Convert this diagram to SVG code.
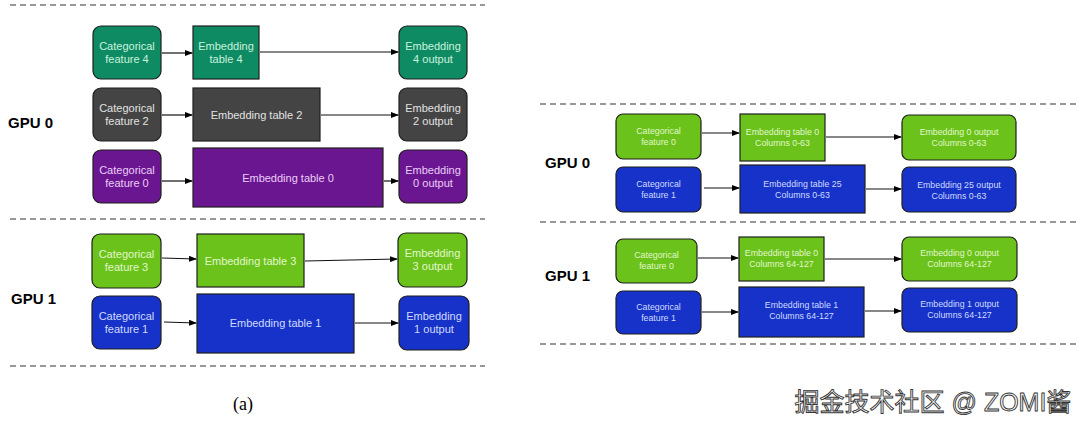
<svg xmlns="http://www.w3.org/2000/svg" width="1080" height="429" viewBox="0 0 1080 429">
<defs>
<marker id="ah" markerWidth="8" markerHeight="6" refX="7" refY="3" orient="auto" markerUnits="userSpaceOnUse">
<path d="M0,0 L8,3 L0,6 Z" fill="#000"/>
</marker>
<style>
.dash{stroke:#333;stroke-width:1.2;stroke-dasharray:6,4;fill:none}
.edge{stroke:#111;stroke-width:1.2;fill:none;marker-end:url(#ah)}
.box{stroke:#1e1e1e;stroke-width:1.2}
.t{font-family:"Liberation Sans",Arial,sans-serif;font-size:11px;text-anchor:middle}
.s{font-family:"Liberation Sans",Arial,sans-serif;font-size:8.8px;text-anchor:middle}
.gpu{font-family:"Liberation Sans",Arial,sans-serif;font-size:15px;font-weight:bold;fill:#000}
.teal{fill:#0f8b63}.tealt{fill:#c9f2de}
.gray{fill:#444444}.grayt{fill:#e2e2e2}
.pur{fill:#6a1691}.purt{fill:#eccdf7}
.grn{fill:#6ac21a}.grnt{fill:#e2f7cc}
.blu{fill:#1632c8}.blut{fill:#d0dbff}
</style>
</defs>
<rect width="1080" height="429" fill="#fff"/>

<g id="separators">
<line class="dash" x1="10" y1="5" x2="485" y2="5"/>
<line class="dash" x1="10" y1="219" x2="485" y2="219"/>
<line class="dash" x1="10" y1="366" x2="485" y2="366"/>
<line class="dash" x1="540" y1="104" x2="1080" y2="104"/>
<line class="dash" x1="540" y1="222" x2="1080" y2="222"/>
<line class="dash" x1="540" y1="344" x2="1080" y2="344"/>
</g>

<g id="labels">
<text class="gpu" x="8" y="128">GPU 0</text>
<text class="gpu" x="11" y="304">GPU 1</text>
<text class="gpu" x="545" y="168">GPU 0</text>
<text class="gpu" x="545" y="281">GPU 1</text>
<text x="243" y="410" font-family="Liberation Serif,'Times New Roman',serif" font-size="18" text-anchor="middle" fill="#000">(a)</text>
</g>

<!-- Left panel, GPU 0 -->
<g id="l-cat4"><rect class="box teal" x="93" y="26" width="68" height="53" rx="8"/><text class="t tealt" x="127" y="50">Categorical</text><text class="t tealt" x="127" y="63">feature 4</text></g>
<g id="l-emb4"><rect class="box teal" x="193" y="26" width="66" height="53"/><text class="t tealt" x="226" y="50">Embedding</text><text class="t tealt" x="226" y="63">table 4</text></g>
<g id="l-out4"><rect class="box teal" x="399" y="26" width="68" height="53" rx="8"/><text class="t tealt" x="433" y="50">Embedding</text><text class="t tealt" x="433" y="63">4 output</text></g>

<g id="l-cat2"><rect class="box gray" x="93" y="88" width="68" height="53" rx="8"/><text class="t grayt" x="127" y="112">Categorical</text><text class="t grayt" x="127" y="125">feature 2</text></g>
<g id="l-emb2"><rect class="box gray" x="193" y="88" width="127" height="53"/><text class="t grayt" x="256.5" y="119">Embedding table 2</text></g>
<g id="l-out2"><rect class="box gray" x="399" y="88" width="68" height="53" rx="8"/><text class="t grayt" x="433" y="112">Embedding</text><text class="t grayt" x="433" y="125">2 output</text></g>

<g id="l-cat0"><rect class="box pur" x="93" y="150" width="68" height="53" rx="8"/><text class="t purt" x="127" y="174">Categorical</text><text class="t purt" x="127" y="187">feature 0</text></g>
<g id="l-emb0"><rect class="box pur" x="193" y="148" width="190" height="59"/><text class="t purt" x="288" y="182">Embedding table 0</text></g>
<g id="l-out0"><rect class="box pur" x="399" y="150" width="68" height="53" rx="8"/><text class="t purt" x="433" y="174">Embedding</text><text class="t purt" x="433" y="187">0 output</text></g>

<!-- Left panel, GPU 1 -->
<g id="l-cat3"><rect class="box grn" x="92" y="234" width="69" height="54" rx="8"/><text class="t grnt" x="126.5" y="258">Categorical</text><text class="t grnt" x="126.5" y="271">feature 3</text></g>
<g id="l-emb3"><rect class="box grn" x="197" y="234" width="107" height="53"/><text class="t grnt" x="250.5" y="265">Embedding table 3</text></g>
<g id="l-out3"><rect class="box grn" x="398" y="233" width="69" height="54" rx="8"/><text class="t grnt" x="432.5" y="257">Embedding</text><text class="t grnt" x="432.5" y="270">3 output</text></g>

<g id="l-cat1"><rect class="box blu" x="92" y="296" width="69" height="53" rx="8"/><text class="t blut" x="126.5" y="320">Categorical</text><text class="t blut" x="126.5" y="333">feature 1</text></g>
<g id="l-emb1"><rect class="box blu" x="197" y="294" width="157" height="59"/><text class="t blut" x="275.5" y="327">Embedding table 1</text></g>
<g id="l-out1"><rect class="box blu" x="399" y="296" width="70" height="54" rx="8"/><text class="t blut" x="434" y="320">Embedding</text><text class="t blut" x="434" y="333">1 output</text></g>

<!-- Right panel, GPU 0 -->
<g id="r0-cat0"><rect class="box grn" x="616" y="114" width="85" height="45" rx="7"/><text class="s grnt" x="658.5" y="134">Categorical</text><text class="s grnt" x="658.5" y="145">feature 0</text></g>
<g id="r0-emb0"><rect class="box grn" x="740" y="114" width="85" height="47"/><text class="s grnt" x="782.5" y="135">Embedding table 0</text><text class="s grnt" x="782.5" y="146">Columns 0-63</text></g>
<g id="r0-out0"><rect class="box grn" x="902" y="115" width="114" height="45" rx="7"/><text class="s grnt" x="959" y="135">Embedding 0 output</text><text class="s grnt" x="959" y="146">Columns 0-63</text></g>

<g id="r0-cat1"><rect class="box blu" x="616" y="167" width="85" height="45" rx="7"/><text class="s blut" x="658.5" y="187">Categorical</text><text class="s blut" x="658.5" y="198">feature 1</text></g>
<g id="r0-emb25"><rect class="box blu" x="740" y="165" width="125" height="48"/><text class="s blut" x="802.5" y="187">Embedding table 25</text><text class="s blut" x="802.5" y="198">Columns 0-63</text></g>
<g id="r0-out25"><rect class="box blu" x="902" y="167" width="114" height="45" rx="7"/><text class="s blut" x="959" y="188">Embedding 25 output</text><text class="s blut" x="959" y="199">Columns 0-63</text></g>

<!-- Right panel, GPU 1 -->
<g id="r1-cat0"><rect class="box grn" x="616" y="239" width="81" height="44" rx="7"/><text class="s grnt" x="656.5" y="258">Categorical</text><text class="s grnt" x="656.5" y="269">feature 0</text></g>
<g id="r1-emb0"><rect class="box grn" x="739" y="237" width="85" height="44"/><text class="s grnt" x="781.5" y="256">Embedding table 0</text><text class="s grnt" x="781.5" y="267">Columns 64-127</text></g>
<g id="r1-out0"><rect class="box grn" x="902" y="237" width="115" height="44" rx="7"/><text class="s grnt" x="959.5" y="256">Embedding 0 output</text><text class="s grnt" x="959.5" y="267">Columns 64-127</text></g>

<g id="r1-cat1"><rect class="box blu" x="616" y="291" width="85" height="43" rx="7"/><text class="s blut" x="658.5" y="310">Categorical</text><text class="s blut" x="658.5" y="321">feature 1</text></g>
<g id="r1-emb1"><rect class="box blu" x="739" y="287" width="125" height="50"/><text class="s blut" x="801.5" y="308">Embedding table 1</text><text class="s blut" x="801.5" y="319">Columns 64-127</text></g>
<g id="r1-out1"><rect class="box blu" x="902" y="288" width="115" height="44" rx="7"/><text class="s blut" x="959.5" y="307">Embedding 1 output</text><text class="s blut" x="959.5" y="318">Columns 64-127</text></g>

<g id="connectors">
<line class="edge" x1="162" y1="53" x2="192" y2="53"/>
<line class="edge" x1="260" y1="52" x2="398" y2="52"/>
<line class="edge" x1="162" y1="115" x2="192" y2="115"/>
<line class="edge" x1="321" y1="115" x2="398" y2="115"/>
<line class="edge" x1="162" y1="181" x2="192" y2="181"/>
<line class="edge" x1="384" y1="181" x2="398" y2="181"/>
<line class="edge" x1="162" y1="258" x2="196" y2="259"/>
<line class="edge" x1="305" y1="261" x2="397" y2="259"/>
<line class="edge" x1="164" y1="322" x2="196" y2="323"/>
<line class="edge" x1="355" y1="323" x2="398" y2="323"/>
<line class="edge" x1="702" y1="133" x2="739" y2="133"/>
<line class="edge" x1="826" y1="137" x2="901" y2="137"/>
<line class="edge" x1="704" y1="188" x2="739" y2="188"/>
<line class="edge" x1="866" y1="189" x2="901" y2="189"/>
<line class="edge" x1="698" y1="258" x2="738" y2="258"/>
<line class="edge" x1="825" y1="259" x2="901" y2="259"/>
<line class="edge" x1="702" y1="312" x2="738" y2="312"/>
<line class="edge" x1="865" y1="311" x2="901" y2="311"/>
</g>

<g id="watermark">
<text x="933" y="411" font-family="'Liberation Sans','Noto Sans CJK SC',sans-serif" font-size="25" text-anchor="middle" fill="#ffffff" stroke="#333" stroke-width="0.9">掘金技术社区 @ ZOMI酱</text>
</g>
</svg>
